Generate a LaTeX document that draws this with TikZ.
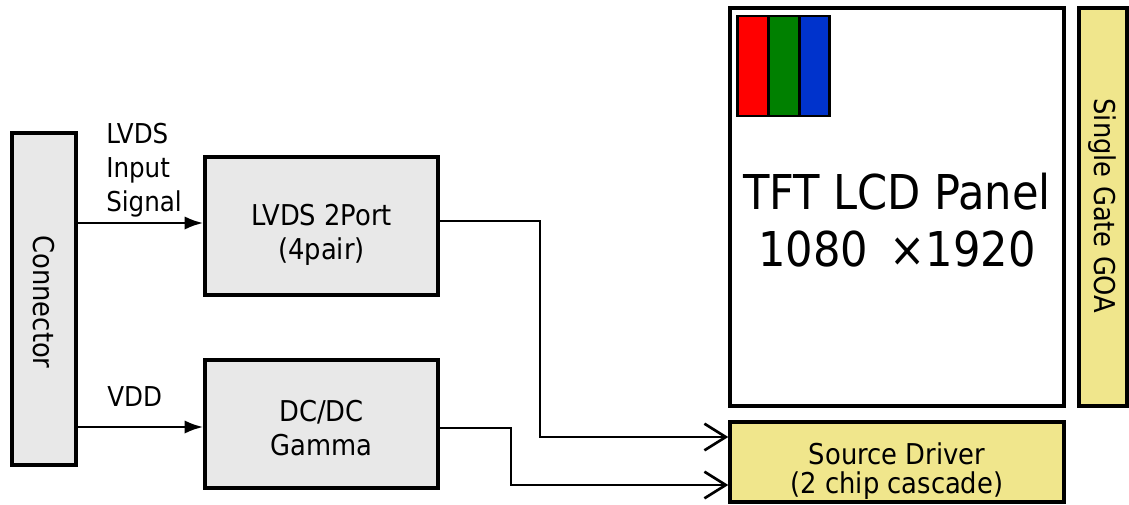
\documentclass[tikz,border=0pt]{standalone}
\usepackage{fontspec}
\setmainfont{DejaVu Sans Condensed}
\usetikzlibrary{arrows.meta}
\definecolor{boxgray}{HTML}{E8E8E8}
\definecolor{khaki}{HTML}{F0E68C}
\definecolor{rgbred}{HTML}{FF0000}
\definecolor{rgbgreen}{HTML}{008000}
\definecolor{rgbblue}{HTML}{0033CC}
\tikzset{
  blk/.style={draw=black, line width=2.6pt, inner sep=0pt},
  graybox/.style={blk, fill=boxgray},
  yelbox/.style={blk, fill=khaki},
  txt/.style={inner sep=0pt, align=center, font=\fontsize{21.5}{26}\selectfont},
  cell/.style={draw=black, line width=2.2pt, inner sep=0pt,
    minimum width=23pt, minimum height=75pt},
  lbl/.style={inner sep=0pt, align=left, font=\fontsize{20.5}{25.5}\selectfont},
  sig/.style={line width=2pt, -{Latex[length=14pt,width=10pt]}},
  bus/.style={line width=1.3pt, -{Straight Barb[length=16pt,width=20pt,line width=2pt]}}
}
\begin{document}
\begin{tikzpicture}[x=0.75pt,y=-0.75pt]
\useasboundingbox (0,0) rectangle (1129,504);
% blocks
\node[graybox, minimum width=48pt, minimum height=249pt] (conn) at (44,299) {};
\node[txt, rotate=-90] (conntxt) at (44,302) {Connector};
\node[graybox, minimum width=174.75pt, minimum height=103.5pt] (lvds) at (321.5,226) {};
\node[txt] (lvdstxt) at (321.5,235) {LVDS 2Port\\(4pair)};
\node[graybox, minimum width=174.75pt, minimum height=96pt] (dcdc) at (321.5,424) {};
\node[txt] (dcdctxt) at (321.5,428) {DC/DC\\Gamma};
\node[blk, fill=white, minimum width=250.5pt, minimum height=298.5pt] (panel) at (897,207) {};
\node[txt, font=\fontsize{36}{43}\selectfont] (paneltxt) at (897,220) {TFT LCD Panel\\1080 \,×1920};
\node[yelbox, minimum width=36pt, minimum height=298.5pt] (goa) at (1103,207) {};
\node[txt, rotate=-90] (goatxt) at (1102,206) {Single Gate GOA};
\node[yelbox, minimum width=250.5pt, minimum height=60pt] (src) at (897,462) {};
\node[txt, font=\fontsize{21.5}{22}\selectfont] (srctxt) at (897,471) {Source Driver\\(2 chip cascade)};
% RGB sub-pixels
\node[cell, fill=rgbred] (r) at (753,66) {};
\node[cell, fill=rgbgreen] (g) at (783.7,66) {};
\node[cell, fill=rgbblue] (b) at (814.4,66) {};
% labels
\node[lbl, anchor=north west] (lvdslbl) at (106,123) {LVDS\\Input\\Signal};
\node[lbl, anchor=north west] (vddlbl) at (107,386) {VDD};
% connectors
\draw[sig] (conn.east |- 0,223) -- (lvds.west |- 0,223);
\draw[sig] (conn.east |- 0,427) -- (dcdc.west |- 0,427);
\draw[bus] (lvds.east |- 0,221) -- (540,221) -- (540,437) -- (src.west |- 0,437);
\draw[bus] (dcdc.east |- 0,428) -- (511,428) -- (511,485) -- (src.west |- 0,485);
\end{tikzpicture}
\end{document}
